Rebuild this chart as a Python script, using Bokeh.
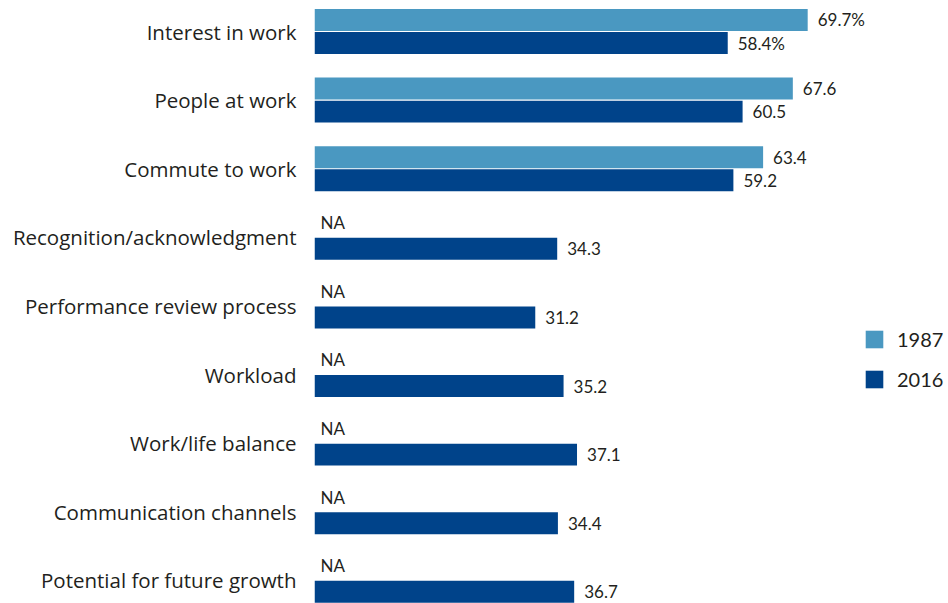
from bokeh.plotting import figure
from bokeh.models import ColumnDataSource, Range1d, FixedTicker, Legend, LegendItem
from bokeh.transform import dodge
from bokeh.core.properties import value
from bokeh.embed import file_html
from bokeh.resources import INLINE

categories = ["Interest in work", "People at work", "Commute to work",
              "Recognition/acknowledgment", "Performance review process",
              "Workload", "Work/life balance", "Communication channels",
              "Potential for future growth"]
v1987 = [69.7, 67.6, 63.4, None, None, None, None, None, None]
v2016 = [58.4, 60.5, 59.2, 34.3, 31.2, 35.2, 37.1, 34.4, 36.7]

C1987 = "#4a98c1"
C2016 = "#00438a"
TXT = "#231f20"
FONT = "Lato"
AXFONT = "Open Sans"

pos = list(range(len(categories)))

def fmt(v, i):
    return ("%.1f%%" % v) if i == 0 else ("%.1f" % v)

s87 = ColumnDataSource(dict(
    y=[p for p, v in zip(pos, v1987) if v is not None],
    v=[v for v in v1987 if v is not None],
    lab=[fmt(v, i) for i, v in enumerate(v1987) if v is not None]))
s16 = ColumnDataSource(dict(y=pos, v=v2016, lab=[fmt(v, i) for i, v in enumerate(v2016)]))
sna = ColumnDataSource(dict(y=[p for p, v in zip(pos, v1987) if v is None],
                            x=[0 for v in v1987 if v is None],
                            lab=["NA" for v in v1987 if v is None]))

p = figure(width=948, height=603, output_backend="svg", toolbar_location=None,
           x_range=Range1d(0, 89.6), y_range=Range1d(8.338, -0.452),
           min_border_left=314, min_border_right=0, min_border_top=0, min_border_bottom=0,
           outline_line_color=None)
p.xaxis.visible = False
p.xgrid.visible = False
p.ygrid.visible = False

off = 0.168
bh = 0.32
r87 = p.hbar(y=dodge("y", -off, range=p.y_range), right="v", left=0, height=bh,
             source=s87, fill_color=C1987, line_color=None)
r16 = p.hbar(y=dodge("y", off, range=p.y_range), right="v", left=0, height=bh,
             source=s16, fill_color=C2016, line_color=None)

p.text(x="v", y=dodge("y", -off, range=p.y_range), text="lab", source=s87,
       x_offset=10, y_offset=0, text_baseline="middle", text_font=value(FONT),
       text_font_size="17px", text_color=TXT)
p.text(x="v", y=dodge("y", off, range=p.y_range), text="lab", source=s16,
       x_offset=10, y_offset=0, text_baseline="middle", text_font=value(FONT),
       text_font_size="17px", text_color=TXT)
p.text(x="x", y=dodge("y", -off, range=p.y_range), text="lab", source=sna,
       x_offset=6, y_offset=-3, text_baseline="middle", text_font=value(FONT),
       text_font_size="17px", text_color=TXT)

ax = p.yaxis[0]
ax.ticker = FixedTicker(ticks=pos)
ax.major_label_overrides = {i: c for i, c in enumerate(categories)}
ax.axis_line_color = None
ax.major_tick_line_color = None
ax.minor_tick_line_color = None
ax.major_label_standoff = 12
ax.major_label_text_font = AXFONT
ax.major_label_text_font_size = "20.5px"
ax.major_label_text_color = TXT

legend = Legend(items=[LegendItem(label="1987", renderers=[r87]),
                       LegendItem(label="2016", renderers=[r16])],
                location=(549, 212), glyph_width=22, glyph_height=22,
                label_height=22, spacing=16, padding=0, margin=0,
                label_standoff=12, border_line_color=None,
                background_fill_alpha=0, label_text_font=FONT,
                label_text_font_size="20px", label_text_color=TXT)
p.add_layout(legend)

open("out.html", "w").write(file_html(p, INLINE))
